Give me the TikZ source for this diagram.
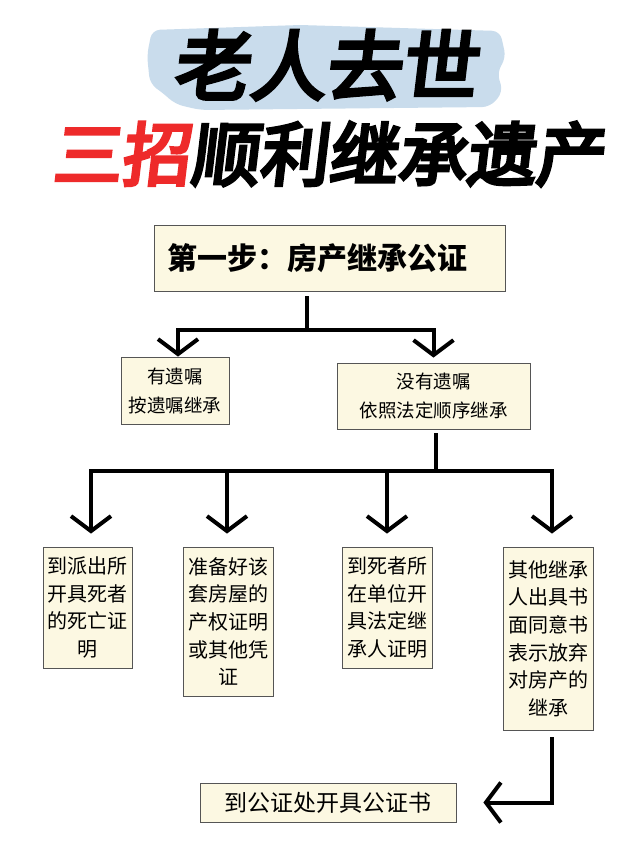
\documentclass[tikz,border=0pt]{standalone}
\usepackage{fontspec}
\usetikzlibrary{arrows.meta}
\newfontfamily\cjk{Noto Sans CJK SC}
\newfontfamily\cjktitle[FakeSlant=0.12,FakeBold=5]{Noto Sans CJK SC}
\definecolor{boxfill}{HTML}{FCF8E2}
\definecolor{boxline}{HTML}{555555}
\definecolor{brush}{HTML}{C9DCEC}
\definecolor{titlered}{HTML}{EE2A2A}
\tikzset{
  stepbox/.style={draw=boxline, line width=0.8pt, fill=boxfill, inner sep=0pt, align=center},
  smallbox/.style={stepbox, font=\cjk\fontsize{18.5}{29}\selectfont},
  rowbox/.style={stepbox, text width=86pt, font=\cjk\fontsize{20}{27.6}\selectfont},
  conn/.style={line width=4pt, black},
  arr/.style={conn, -{Straight Barb[length=15pt,width=40pt]}},
}
\begin{document}
\begin{tikzpicture}[x=1pt,y=-1pt]
\useasboundingbox (0,0) rectangle (635,847);
\fill[white] (0,0) rectangle (635,847);
% title brush
\fill[brush, rounded corners=8pt] (152,30) -- (300,25) -- (500,31) -- (506,58) -- (497,72) -- (503,92) -- (490,107) -- (200,110) -- (175,104) -- (163,93) -- (150,84) -- (147,55) -- cycle;
\node[inner sep=0pt, font=\cjktitle\fontsize{76}{80}\selectfont] (t1) at (325,65) {老人去世};
\node[inner sep=0pt, font=\cjktitle\fontsize{69}{80}\selectfont] (t2) at (328,154) {\textcolor{titlered}{三招}顺利继承遗产};
% step box
\node[stepbox, minimum width=351pt, minimum height=66pt, text width=337pt, align=left, font=\cjk\bfseries\fontsize{30}{32}\selectfont] (step) at (329.5,258) {\hspace*{6pt}第一步：房产继承公证};
\node[smallbox, minimum width=108pt, minimum height=67pt] (left) at (175,390.5) {有遗嘱\\按遗嘱继承};
\node[smallbox, minimum width=193pt, minimum height=66pt] (right) at (433.5,396) {没有遗嘱\\依照法定顺序继承};
\node[rowbox, minimum width=89pt, minimum height=121pt] (b1) at (87.5,607.5) {到派出所\\开具死者\\的死亡证\\明};
\node[rowbox, minimum width=90pt, minimum height=149pt] (b2) at (228,621.5) {准备好该\\套房屋的\\产权证明\\或其他凭\\证};
\node[rowbox, minimum width=90pt, minimum height=121pt] (b3) at (387,607.5) {到死者所\\在单位开\\具法定继\\承人证明};
\node[rowbox, minimum width=90pt, minimum height=183pt] (b4) at (548,638.5) {其他继承\\人出具书\\面同意书\\表示放弃\\对房产的\\继承};
\node[stepbox, minimum width=256pt, minimum height=39pt, font=\cjk\fontsize{23}{26}\selectfont] (final) at (328,802.5) {到公证处开具公证书};
% connectors top
\coordinate (j1) at (307,330);
\draw[conn] ([xshift=-22.5pt,yshift=-5pt]step.south) -- (j1);
\draw[arr] (j1) -| ([xshift=3pt]left.north);
\draw[arr, shorten >=5pt] (j1) -| (right.north);
% connectors middle
\coordinate (c1) at (91,471);
\coordinate (c2) at (227,471);
\coordinate (c3) at (387,471);
\coordinate (c4) at (552,471);
\draw[conn] ([xshift=2.5pt,yshift=-4pt]right.south) -- (436,471);
\draw[arr, shorten >=13pt] (c4) -- (c1) -- (c1 |- b1.north);
\draw[arr, shorten >=13pt] (c1) -- (c4) -- (c4 |- b4.north);
\draw[arr, shorten >=13pt] (c2) -- (c2 |- b2.north);
\draw[arr, shorten >=13pt] (c3) -- (c3 |- b3.north);
% bottom
\draw[arr, shorten >=27pt] ([xshift=4pt,yshift=-7pt]b4.south) |- (final.east);
\end{tikzpicture}
\end{document}
